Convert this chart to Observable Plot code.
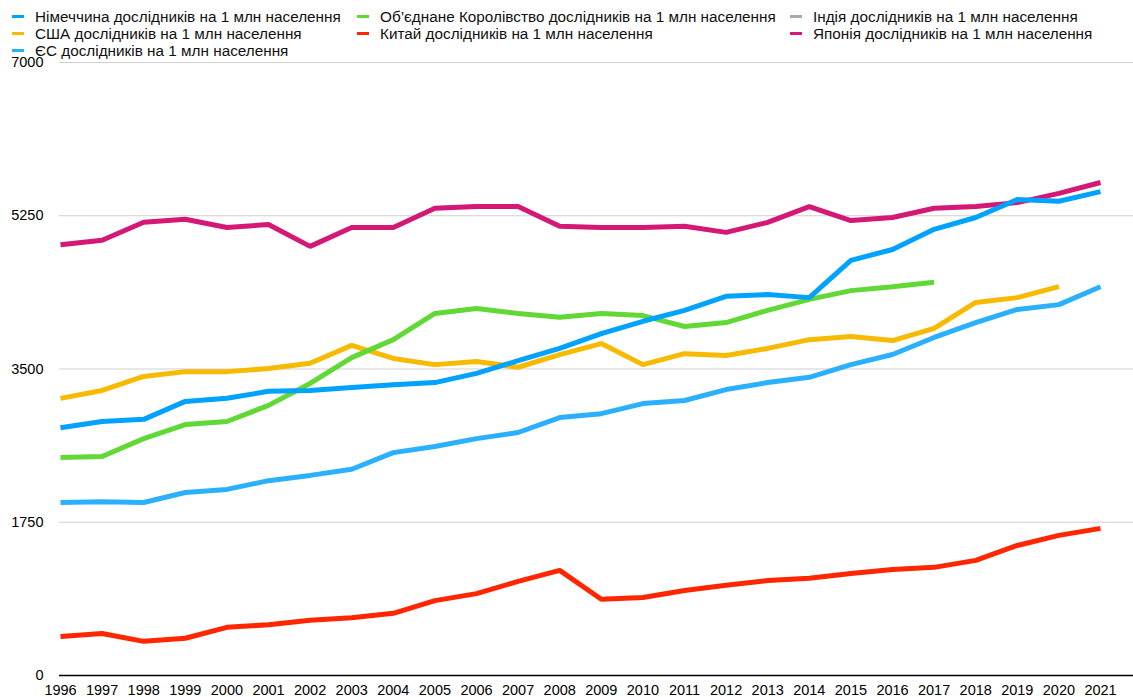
<!DOCTYPE html>
<html>
<head>
<meta charset="utf-8">
<script src="https://cdn.jsdelivr.net/npm/d3@7"></script>
<script src="https://cdn.jsdelivr.net/npm/@observablehq/plot@0.6"></script>
<style>
  html, body { margin: 0; padding: 0; background: #fff; }
  body { width: 1133px; height: 697px; overflow: hidden; font-family: "Liberation Sans", Arial, Helvetica, sans-serif; }
  #legend { height: 52px; box-sizing: border-box; padding: 8px 0 0 12px; display: grid;
    grid-template-columns: 345px 433px auto; grid-auto-rows: 17px; font-size: 15.3px; color: #111; }
  .item { display: flex; align-items: center; white-space: nowrap; }
  .sw { width: 12px; height: 3px; margin-right: 11px; flex: none; }
</style>
</head>
<body>
<div id="legend"></div>
<div id="chart"></div>
<script>
const years = [1996,1997,1998,1999,2000,2001,2002,2003,2004,2005,2006,2007,2008,2009,2010,2011,2012,2013,2014,2015,2016,2017,2018,2019,2020,2021];
const yTicks = [0, 1750, 3500, 5250, 7000];

const seriesNames = [
  "Німеччина дослідників на 1 млн населення",
  "Об’єднане Королівство дослідників на 1 млн населення",
  "Індія дослідників на 1 млн населення",
  "США дослідників на 1 млн населення",
  "Китай дослідників на 1 млн населення",
  "Японія дослідників на 1 млн населення",
  "ЄС дослідників на 1 млн населення"
];
const seriesColors = ["#00A2FF", "#61D836", "#A9A9A9", "#F8BA00", "#FF2600", "#D31876", "#2BB0FF"];

const germany = [2830, 2900, 2925, 3130, 3165, 3245, 3255, 3290, 3320, 3345, 3450, 3595, 3735, 3905, 4045, 4170, 4330, 4350, 4315, 4740, 4865, 5095, 5230, 5435, 5415, 5525];
const uk = [2490, 2500, 2705, 2865, 2900, 3085, 3335, 3630, 3835, 4135, 4190, 4135, 4090, 4135, 4110, 3985, 4030, 4170, 4295, 4395, 4440, 4490];
const india = [];
const usa = [3165, 3255, 3415, 3470, 3470, 3505, 3565, 3770, 3620, 3550, 3585, 3520, 3665, 3790, 3550, 3675, 3655, 3735, 3835, 3870, 3825, 3965, 4260, 4315, 4440];
const china = [445, 480, 390, 425, 550, 580, 630, 660, 710, 855, 935, 1075, 1200, 870, 890, 970, 1030, 1085, 1110, 1165, 1210, 1235, 1315, 1485, 1600, 1680];
const japan = [4920, 4970, 5175, 5210, 5115, 5150, 4900, 5115, 5115, 5335, 5355, 5355, 5130, 5115, 5115, 5130, 5060, 5175, 5355, 5195, 5230, 5335, 5355, 5400, 5505, 5630];
const eu = [1975, 1985, 1975, 2090, 2125, 2225, 2285, 2355, 2545, 2615, 2705, 2775, 2945, 2990, 3105, 3140, 3265, 3345, 3405, 3550, 3665, 3860, 4030, 4180, 4235, 4440];

const seriesValues = [germany, uk, india, usa, china, japan, eu];

// legend
const legend = document.getElementById("legend");
seriesNames.forEach((name, i) => {
  const it = document.createElement("div");
  it.className = "item";
  it.innerHTML = `<span class="sw" style="background:${seriesColors[i]}"></span><span>${name}</span>`;
  legend.appendChild(it);
});

// build table
const rows = [];
seriesValues.forEach((vals, s) => {
  vals.forEach((v, i) => rows.push({series: seriesNames[s], year: years[i], value: v}));
});

// draw later series first so Germany ends on top
const drawOrder = [6, 5, 4, 3, 2, 1, 0];

const chart = Plot.plot({
  width: 1133,
  height: 645,
  marginTop: 10,
  marginBottom: 22,
  marginLeft: 59,
  marginRight: 0,
  style: {fontFamily: "Liberation Sans, Arial, Helvetica, sans-serif", fontSize: "14.5px", color: "#000", background: "#fff", overflow: "visible"},
  x: {domain: [1996, 2021], insetLeft: 1, insetRight: 33},
  y: {domain: [0, 7000]},
  color: {domain: seriesNames, range: seriesColors},
  marks: [
    Plot.gridY(yTicks.filter(d => d > 0), {stroke: "#cfcfcf", strokeOpacity: 1, strokeWidth: 1}),
    ...drawOrder.map(s => Plot.line(rows.filter(r => r.series === seriesNames[s]), {
      x: "year", y: "value", stroke: "series", strokeWidth: 5, strokeLinejoin: "miter", strokeLinecap: "butt"
    })),
    Plot.ruleY([0], {stroke: "#000", strokeWidth: 1.5}),
    Plot.axisY({ticks: yTicks, tickSize: 0, tickPadding: 16, label: null, fontSize: 14.5, tickFormat: d => String(d)}),
    Plot.axisX({ticks: years, tickSize: 0, tickPadding: 9, label: null, fontSize: 14.5, tickFormat: d => String(d)})
  ]
});
document.getElementById("chart").appendChild(chart);
</script>
</body>
</html>
